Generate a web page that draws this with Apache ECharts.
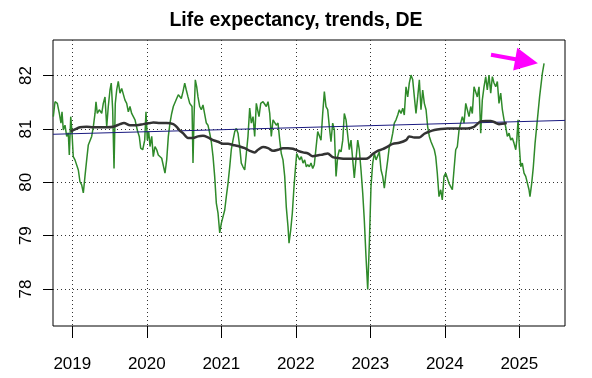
<!DOCTYPE html>
<html><head><meta charset="utf-8">
<script src="https://cdn.jsdelivr.net/npm/echarts@6/dist/echarts.min.js"></script>
<style>html,body{margin:0;padding:0;background:#fff}#c{width:592px;height:378px}</style>
</head><body><div id="c"></div>
<script>
const titleText = 'Life expectancy, trends, DE';
const xTicks = [2019, 2020, 2021, 2022, 2023, 2024, 2025];
const yTicks = [78, 79, 80, 81, 82];
const xRange = [2018.741, 2025.613];
const yRange = [77.306, 82.667];

// weekly life expectancy (green)
const weekly = [[2018.745,81.23],[2018.768,81.51],[2018.799,81.48],[2018.826,81.29],[2018.848,81.11],[2018.862,81.32],[2018.879,80.98],[2018.902,81.07],[2018.925,80.86],[2018.946,80.93],[2018.960,80.51],[2018.979,81.23],[2018.996,80.93],[2019.013,80.48],[2019.036,80.42],[2019.059,80.45],[2019.081,80.23],[2019.103,80.01],[2019.126,79.95],[2019.148,79.80],[2019.170,80.11],[2019.193,80.42],[2019.215,80.70],[2019.238,80.73],[2019.260,80.86],[2019.282,81.04],[2019.305,81.29],[2019.318,81.51],[2019.336,81.29],[2019.362,81.36],[2019.395,81.29],[2019.416,81.48],[2019.439,81.60],[2019.462,81.04],[2019.483,81.42],[2019.506,81.73],[2019.523,81.86],[2019.542,81.36],[2019.560,80.26],[2019.577,81.48],[2019.596,81.73],[2019.617,81.89],[2019.640,81.67],[2019.663,81.76],[2019.685,81.73],[2019.707,81.54],[2019.730,81.48],[2019.752,81.32],[2019.774,81.42],[2019.797,81.29],[2019.819,81.32],[2019.842,81.17],[2019.872,80.98],[2019.899,80.86],[2019.918,80.64],[2019.945,80.61],[2019.972,80.79],[2019.989,81.32],[2020.007,80.79],[2020.026,80.95],[2020.043,80.67],[2020.066,80.86],[2020.087,80.48],[2020.110,80.67],[2020.133,80.61],[2020.154,80.51],[2020.177,80.54],[2020.200,80.45],[2020.221,80.48],[2020.244,80.17],[2020.267,80.42],[2020.289,80.86],[2020.311,81.11],[2020.334,81.29],[2020.356,81.42],[2020.379,81.45],[2020.401,81.57],[2020.423,81.64],[2020.442,81.67],[2020.463,81.57],[2020.486,81.70],[2020.509,81.86],[2020.530,81.73],[2020.553,81.60],[2020.576,81.48],[2020.593,81.48],[2020.607,81.42],[2020.620,80.36],[2020.634,81.23],[2020.651,81.92],[2020.670,81.79],[2020.687,81.60],[2020.710,81.42],[2020.732,81.36],[2020.754,81.45],[2020.777,81.42],[2020.799,81.11],[2020.821,81.07],[2020.844,80.92],[2020.866,80.76],[2020.889,80.48],[2020.911,80.11],[2020.933,79.61],[2020.956,79.42],[2020.979,79.05],[2021.000,79.23],[2021.023,79.20],[2021.046,79.48],[2021.067,79.73],[2021.090,79.98],[2021.113,80.29],[2021.134,80.61],[2021.157,80.79],[2021.180,80.95],[2021.201,81.01],[2021.224,80.92],[2021.247,80.67],[2021.268,80.36],[2021.291,80.29],[2021.314,80.23],[2021.336,80.54],[2021.358,80.86],[2021.381,81.39],[2021.403,81.11],[2021.426,81.23],[2021.448,80.86],[2021.470,81.48],[2021.493,81.51],[2021.506,81.23],[2021.529,81.48],[2021.560,81.51],[2021.583,81.54],[2021.604,81.42],[2021.627,81.51],[2021.650,81.29],[2021.671,80.86],[2021.694,81.17],[2021.717,81.17],[2021.738,81.07],[2021.761,81.11],[2021.784,80.79],[2021.805,80.54],[2021.828,80.42],[2021.851,80.11],[2021.872,79.54],[2021.895,79.17],[2021.909,78.86],[2021.932,79.11],[2021.953,79.42],[2021.976,79.92],[2021.993,80.23],[2022.012,80.54],[2022.030,80.48],[2022.052,80.42],[2022.074,80.48],[2022.097,80.36],[2022.119,80.42],[2022.141,80.29],[2022.160,80.33],[2022.181,80.29],[2022.204,80.36],[2022.227,80.26],[2022.248,80.33],[2022.271,80.64],[2022.294,80.95],[2022.315,80.92],[2022.338,80.79],[2022.361,81.29],[2022.383,81.70],[2022.405,81.42],[2022.428,81.36],[2022.450,81.04],[2022.472,80.76],[2022.495,81.11],[2022.517,80.98],[2022.540,80.11],[2022.562,80.48],[2022.584,80.61],[2022.607,80.57],[2022.630,80.79],[2022.651,81.29],[2022.674,81.17],[2022.697,81.20],[2022.718,80.61],[2022.741,80.79],[2022.764,80.42],[2022.785,80.08],[2022.808,80.11],[2022.831,80.79],[2022.852,80.61],[2022.875,80.23],[2022.898,79.80],[2022.919,79.30],[2022.942,78.61],[2022.965,77.99],[2022.987,78.86],[2023.009,79.92],[2023.032,80.36],[2023.054,80.54],[2023.077,80.42],[2023.099,80.45],[2023.121,80.57],[2023.144,80.23],[2023.166,80.11],[2023.188,79.89],[2023.211,80.17],[2023.234,80.42],[2023.255,80.67],[2023.278,80.76],[2023.301,80.92],[2023.322,81.11],[2023.345,81.17],[2023.368,81.26],[2023.389,81.36],[2023.412,81.29],[2023.435,81.39],[2023.456,81.26],[2023.479,81.79],[2023.502,81.60],[2023.523,81.86],[2023.546,82.01],[2023.569,81.92],[2023.591,81.60],[2023.613,81.29],[2023.636,81.60],[2023.658,81.92],[2023.680,81.36],[2023.703,81.73],[2023.725,81.48],[2023.748,81.36],[2023.770,81.04],[2023.792,80.86],[2023.815,80.76],[2023.838,80.73],[2023.859,80.61],[2023.878,80.48],[2023.899,80.17],[2023.922,79.73],[2023.945,79.86],[2023.966,79.67],[2023.989,80.11],[2024.012,80.17],[2024.034,80.14],[2024.056,79.98],[2024.079,79.92],[2024.101,79.86],[2024.123,80.23],[2024.146,80.61],[2024.168,80.67],[2024.191,80.98],[2024.213,81.11],[2024.235,81.23],[2024.258,81.11],[2024.281,81.48],[2024.302,81.36],[2024.325,81.23],[2024.348,81.42],[2024.369,81.29],[2024.392,81.79],[2024.415,81.82],[2024.436,81.60],[2024.459,81.79],[2024.482,80.92],[2024.503,81.54],[2024.526,81.79],[2024.549,81.98],[2024.570,81.73],[2024.593,82.01],[2024.616,81.67],[2024.638,81.98],[2024.660,81.86],[2024.683,81.79],[2024.705,81.89],[2024.727,81.48],[2024.750,81.67],[2024.772,81.36],[2024.795,81.17],[2024.817,81.04],[2024.839,80.86],[2024.862,80.92],[2024.885,80.79],[2024.906,80.83],[2024.929,80.73],[2024.952,80.61],[2024.966,80.79],[2024.983,81.17],[2025.000,80.67],[2025.019,80.29],[2025.040,80.36],[2025.063,80.17],[2025.086,80.11],[2025.107,80.11],[2025.130,79.86],[2025.143,79.73],[2025.166,79.98],[2025.188,80.29],[2025.211,80.73],[2025.242,81.17],[2025.272,81.60],[2025.309,82.04],[2025.332,82.23]];

// moving average (black)
const movingAvg = [[2018.979,80.95],[2019.036,80.99],[2019.103,81.03],[2019.193,81.04],[2019.282,81.03],[2019.462,81.03],[2019.550,81.04],[2019.640,81.09],[2019.694,81.11],[2019.774,81.07],[2019.864,81.07],[2019.953,81.09],[2020.043,81.11],[2020.087,81.12],[2020.177,81.11],[2020.267,81.11],[2020.356,81.09],[2020.401,81.04],[2020.443,80.97],[2020.486,80.92],[2020.553,80.83],[2020.620,80.83],[2020.687,80.86],[2020.754,80.87],[2020.821,80.84],[2020.889,80.79],[2020.956,80.76],[2021.023,80.72],[2021.090,80.72],[2021.157,80.70],[2021.224,80.68],[2021.314,80.64],[2021.381,80.59],[2021.448,80.56],[2021.493,80.61],[2021.560,80.66],[2021.627,80.64],[2021.694,80.59],[2021.761,80.61],[2021.828,80.64],[2021.895,80.64],[2021.962,80.63],[2022.030,80.59],[2022.097,80.56],[2022.164,80.54],[2022.227,80.49],[2022.315,80.51],[2022.365,80.52],[2022.428,80.54],[2022.495,80.47],[2022.584,80.45],[2022.674,80.44],[2022.764,80.44],[2022.852,80.44],[2022.942,80.44],[2022.987,80.47],[2023.032,80.53],[2023.099,80.59],[2023.166,80.62],[2023.234,80.67],[2023.301,80.72],[2023.389,80.74],[2023.479,80.79],[2023.523,80.86],[2023.591,80.84],[2023.658,80.84],[2023.725,80.91],[2023.792,80.95],[2023.859,80.98],[2023.945,81.00],[2024.034,81.01],[2024.123,81.01],[2024.213,81.01],[2024.302,81.01],[2024.392,81.04],[2024.482,81.14],[2024.549,81.15],[2024.616,81.15],[2024.660,81.13],[2024.727,81.09],[2024.831,81.11]];

// linear trend (blue)
const trend = [[2018.741,80.90],[2025.613,81.16]];

// arrow annotation (tail, head)
const arrowFrom = [2024.62, 82.39];
const arrowTo = [2025.097, 82.27];

const FONT = 'Liberation Sans';
const chart = echarts.init(document.getElementById('c'), null, {renderer: 'canvas'});
chart.setOption({
  animation: false,
  backgroundColor: '#fff',
  title: {
    text: titleText, left: 'center', top: 6,
    textStyle: {fontFamily: FONT, fontWeight: 'bold', fontSize: 19.5, color: '#000'}
  },
  grid: {left: 53, right: 27, top: 40, bottom: 52, show: true, borderColor: '#000', borderWidth: 1, backgroundColor: 'transparent', containLabel: false, outerBoundsMode: 'none'},
  xAxis: {
    type: 'value', min: xRange[0], max: xRange[1],
    axisLine: {show: false},
    axisTick: {show: true, length: 12, customValues: xTicks, lineStyle: {color: '#000'}},
    axisLabel: {customValues: xTicks, margin: 30, fontSize: 17, fontFamily: FONT, color: '#000',
      formatter: v => String(Math.round(v))},
    splitLine: {show: true, lineStyle: {type: [1, 3], color: '#333', width: 1}}
  },
  yAxis: {
    type: 'value', min: yRange[0], max: yRange[1],
    axisLine: {show: false},
    axisTick: {show: true, length: 10, customValues: yTicks, lineStyle: {color: '#000'}},
    axisLabel: {customValues: yTicks, rotate: 90, margin: 18, fontSize: 17, fontFamily: FONT, color: '#000',
      formatter: v => String(Math.round(v))},
    splitLine: {show: true, lineStyle: {type: [1, 3], color: '#333', width: 1}}
  },
  series: [
    {type: 'line', data: weekly, showSymbol: false, symbol: 'none', clip: true,
     lineStyle: {color: '#2f8a2a', width: 1.5}, z: 2},
    {type: 'line', data: trend, showSymbol: false, symbol: 'none', clip: true,
     lineStyle: {color: '#1a1a80', width: 1}, z: 3},
    {type: 'line', data: movingAvg, showSymbol: false, symbol: 'none', clip: true, smooth: 0.3,
     lineStyle: {color: '#333', width: 2.5}, z: 4},
    {type: 'line', data: [], z: 5,
     markLine: {silent: true, symbol: ['none', 'triangle'], symbolSize: 23, label: {show: false},
       lineStyle: {color: '#ff00ff', width: 4, type: 'solid'},
       itemStyle: {color: '#ff00ff'},
       emphasis: {disabled: true},
       data: [[{coord: arrowFrom}, {coord: arrowTo}]]}}
  ]
});
</script></body></html>
